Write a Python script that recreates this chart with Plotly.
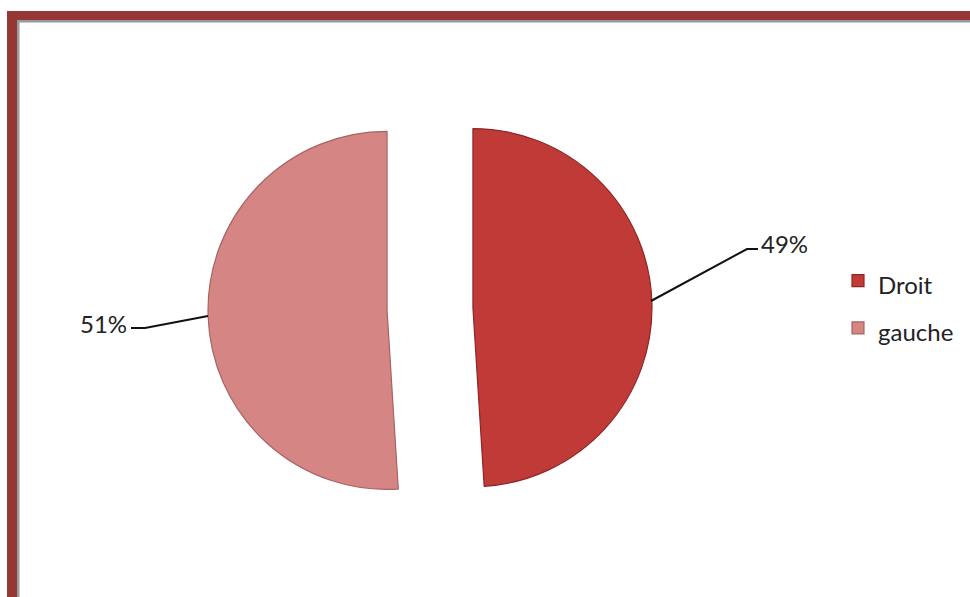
import plotly.graph_objects as go

W, H = 970, 597

labels = ["Droit", "gauche"]
values = [49, 51]
colors = ["#C03A38", "#D68585"]
line_colors = ["#8E2524", "#A86363"]
pct_text = ["49%", "51%"]

def px(x):
    return x / W

def py(y):
    return 1 - y / H

# legend labels: small visible text inside a taller legend line, to get the reference's wider entry spacing
legend_labels = [f"<span style='font-size:24px'>{l}</span>" for l in labels]

fig = go.Figure()
fig.add_trace(go.Pie(
    labels=legend_labels,
    values=values,
    sort=False,
    direction="clockwise",
    rotation=0,
    pull=[0.24, 0.24],
    textinfo="none",
    marker=dict(colors=colors, line=dict(color=line_colors, width=1.2)),
    domain=dict(x=[px(208), px(652)], y=[py(531), py(87)]),
    hovertemplate="%{percent}<extra></extra>",
))

shapes = []
# frame
frame_red = "#953735"
shapes.append(dict(type="rect", xref="paper", yref="paper", x0=px(7), x1=px(17), y0=py(H + 5), y1=py(11),
                   fillcolor=frame_red, line=dict(width=0), layer="above"))
shapes.append(dict(type="rect", xref="paper", yref="paper", x0=px(7), x1=px(W + 5), y0=py(20), y1=py(11),
                   fillcolor=frame_red, line=dict(width=0), layer="above"))
shapes.append(dict(type="rect", xref="paper", yref="paper", x0=px(17), x1=px(19.5), y0=py(H + 5), y1=py(20),
                   fillcolor="#9a9a9a", line=dict(width=0), layer="above"))
shapes.append(dict(type="rect", xref="paper", yref="paper", x0=px(17), x1=px(W + 5), y0=py(22.5), y1=py(20),
                   fillcolor="#9a9a9a", line=dict(width=0), layer="above"))

# leader lines
def path(pts):
    return "M " + " L ".join(f"{px(x):.5f},{py(y):.5f}" for x, y in pts)

shapes.append(dict(type="path", xref="paper", yref="paper",
                   path=path([(651, 301), (747, 249), (758, 249)]),
                   line=dict(color="#111111", width=2)))
shapes.append(dict(type="path", xref="paper", yref="paper",
                   path=path([(208, 316), (145, 328), (131, 328)]),
                   line=dict(color="#111111", width=2)))

annotations = [
    dict(text=pct_text[0], x=px(759), y=py(243), xref="paper", yref="paper",
         xanchor="left", yanchor="middle", showarrow=False,
         font=dict(family="Lato", size=24, color="#222222")),
    dict(text=pct_text[1], x=px(129), y=py(323), xref="paper", yref="paper",
         xanchor="right", yanchor="middle", showarrow=False,
         font=dict(family="Lato", size=24, color="#222222")),
]

fig.update_layout(
    width=W, height=H,
    margin=dict(l=0, r=0, t=0, b=0),
    paper_bgcolor="white",
    plot_bgcolor="white",
    shapes=shapes,
    annotations=annotations,
    showlegend=True,
    legend=dict(x=px(838), y=py(252), xanchor="left", yanchor="top",
                font=dict(family="Lato", size=34, color="#222222"),
                bgcolor="rgba(0,0,0,0)", itemwidth=30, tracegroupgap=0),
)

fig.write_html("out.html")
